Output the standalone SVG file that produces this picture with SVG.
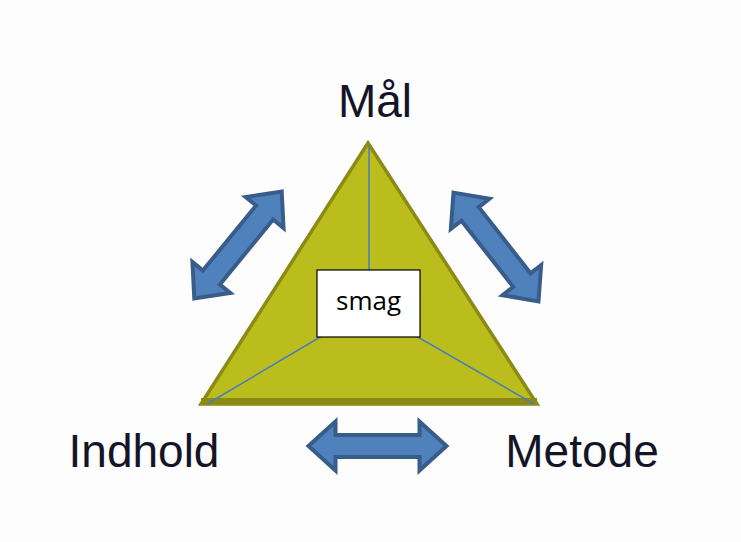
<svg xmlns="http://www.w3.org/2000/svg" width="741" height="542" viewBox="0 0 741 542">
<style>
.lbl{font-family:"Liberation Sans",Arial,sans-serif;font-size:46px;fill:#141428;text-anchor:middle}
.arrow{fill:#4f81bd;stroke:#385d8a;stroke-width:4;stroke-linejoin:miter}
.spoke{stroke:#4a7ebb;stroke-width:1.5;fill:none}
</style>
<defs>
<path id="dblarrow" d="M-69,0 L-42,-24.5 L-42,-11 L42,-11 L42,-24.5 L69,0 L42,24.5 L42,11 L-42,11 L-42,24.5 Z"/>
</defs>
<rect width="741" height="542" fill="#fdfdfd"/>
<g id="triangle">
<polygon points="201,404 368,143 537,404" fill="#bbbd1d" stroke="#8b8a14" stroke-width="3.5" stroke-linejoin="miter"/>
<rect x="201" y="398" width="336" height="7" fill="#8b8a14"/>
</g>
<g id="connectors">
<line class="spoke" x1="369" y1="147" x2="369" y2="270"/>
<line class="spoke" x1="207" y1="404" x2="322" y2="336"/>
<line class="spoke" x1="534" y1="404" x2="416" y2="336"/>
<use href="#dblarrow" class="arrow" transform="translate(238,245) rotate(-50.7)"/>
<use href="#dblarrow" class="arrow" transform="translate(496,247) rotate(52)"/>
<use href="#dblarrow" class="arrow" transform="translate(377.5,446)"/>
</g>
<g id="smag">
<rect x="317" y="270" width="103" height="67" fill="#ffffff" stroke="#000000" stroke-width="1.2"/>
<text x="368.5" y="310" font-family="'Open Sans','Noto Sans',sans-serif" font-size="26" fill="#000" text-anchor="middle">smag</text>
</g>
<g id="maal"><text class="lbl" x="375" y="117">Mål</text></g>
<g id="indhold"><text class="lbl" x="144" y="467">Indhold</text></g>
<g id="metode"><text class="lbl" x="582" y="467">Metode</text></g>
</svg>
